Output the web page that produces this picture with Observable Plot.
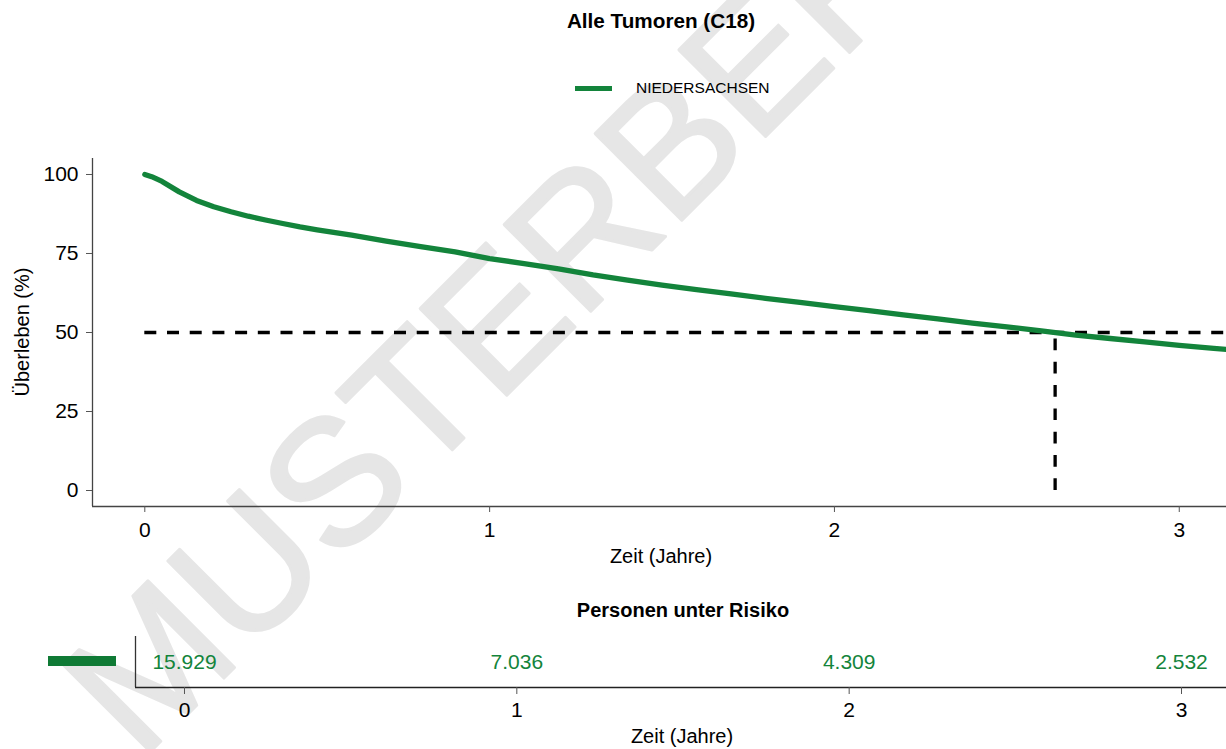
<!DOCTYPE html>
<html>
<head>
<meta charset="utf-8">
<script src="https://cdn.jsdelivr.net/npm/d3@7"></script>
<script src="https://cdn.jsdelivr.net/npm/@observablehq/plot@0.6"></script>
<style>
  html, body { margin: 0; padding: 0; background: #fff; }
  #wrap { position: relative; width: 1226px; height: 749px; overflow: hidden; font-family: "Liberation Sans", Arial, sans-serif; }
  #wrap > * { position: absolute; left: 0; }
  #wm { top: 0; z-index: 0; }
  #main { top: 0; z-index: 1; }
  #risk { top: 580px; z-index: 1; }
  #labels { top: 0; z-index: 2; pointer-events: none; }
</style>
</head>
<body>
<div id="wrap"></div>
<script>
// ---- data ----
const title = "Alle Tumoren (C18)";
const seriesName = "NIEDERSACHSEN";
const timeYears = [0, 0.02, 0.05, 0.1, 0.15, 0.2, 0.25, 0.3, 0.35, 0.4, 0.45, 0.5, 0.6, 0.7, 0.8, 0.9, 1.0, 1.1, 1.2, 1.3, 1.4, 1.5, 1.6, 1.7, 1.8, 1.9, 2.0, 2.1, 2.2, 2.3, 2.4, 2.5, 2.6, 2.7, 2.8, 2.9, 3.0, 3.1, 3.14];
const survivalPct = [100, 99.3, 97.8, 94.5, 91.8, 89.8, 88.2, 86.8, 85.6, 84.5, 83.4, 82.5, 80.8, 78.9, 77.2, 75.5, 73.4, 71.8, 70.1, 68.2, 66.6, 65.0, 63.6, 62.2, 60.8, 59.5, 58.2, 56.9, 55.6, 54.3, 53.0, 51.8, 50.5, 49.2, 48.1, 47.0, 45.9, 45.0, 44.6];
const medianYears = 2.64;
const medianLevel = 50;
const xTicks = [0, 1, 2, 3];
const yTicks = [0, 25, 50, 75, 100];
const riskTimes = [0, 1, 2, 3];
const riskCounts = [15929, 7036, 4309, 2532];
const xLabel = "Zeit (Jahre)";
const yLabel = "Überleben (%)";
const riskTitle = "Personen unter Risiko";
const watermark = "MUSTERBERICHT";

const green = "#13843b";
const greenDark = "#0f7a35";
const font = "'Liberation Sans', Arial, sans-serif";
const fmt = d => String(d);

const curve = timeYears.map((t, i) => ({t, v: survivalPct[i]}));
const wrap = document.getElementById("wrap");

// ---- watermark (behind) ----
const ns = "http://www.w3.org/2000/svg";
const wm = document.createElementNS(ns, "svg");
wm.setAttribute("id", "wm"); wm.setAttribute("width", 1226); wm.setAttribute("height", 749);
wm.innerHTML = `<text x="140" y="762" transform="rotate(-45 140 762)" font-family="${font}" font-size="178" fill="#e6e6e6" stroke="#e6e6e6" stroke-width="3" stroke-linejoin="round">${watermark}</text>`;
wrap.appendChild(wm);

// ---- main chart ----
const xDom = [-0.1517, 3.137];
const yDom = [-5.06, 105.06];
const main = Plot.plot({
  width: 1226, height: 580,
  marginLeft: 92, marginRight: 0, marginTop: 158, marginBottom: 74,
  style: {background: "transparent", fontFamily: font, overflow: "visible"},
  x: {domain: xDom, axis: null},
  y: {domain: yDom, axis: null},
  marks: [
    Plot.ruleX([xDom[0]], {stroke: "#444", strokeWidth: 1.3}),
    Plot.ruleY([yDom[0]], {stroke: "#444", strokeWidth: 1.3}),
    Plot.axisY(yTicks, {tickSize: 6, tickPadding: 8, fontSize: 21, stroke: "#555", fill: "#000", label: null, tickFormat: fmt}),
    Plot.axisX(xTicks, {tickSize: 6, tickPadding: 10, fontSize: 21, stroke: "#555", fill: "#000", label: null, tickFormat: fmt}),
    Plot.ruleY([medianLevel], {x1: 0, x2: xDom[1], stroke: "#000", strokeWidth: 3.6, strokeDasharray: "12,10.7"}),
    Plot.ruleX([medianYears], {y1: 0, y2: medianLevel, stroke: "#000", strokeWidth: 3.3, strokeDasharray: "11.7,11.6"}),
    Plot.line(curve, {x: "t", y: "v", stroke: green, strokeWidth: 5.3, clip: true})
  ]
});
main.setAttribute("id", "main");
wrap.appendChild(main);

// ---- risk table ----
const rDom = [-0.1474, 3.1354];
const risk = Plot.plot({
  width: 1226, height: 169,
  marginLeft: 135, marginRight: 0, marginTop: 56, marginBottom: 62,
  style: {background: "transparent", fontFamily: font, overflow: "visible"},
  x: {domain: rDom, axis: null},
  y: {domain: [0, 1], axis: null},
  marks: [
    Plot.ruleX([rDom[0]], {stroke: "#333", strokeWidth: 1.3}),
    Plot.ruleY([0], {stroke: "#222", strokeWidth: 1.3}),
    Plot.axisX(xTicks, {tickSize: 7, tickPadding: 8, fontSize: 21, stroke: "#555", fill: "#000", label: null, tickFormat: fmt}),
    Plot.text(riskTimes, {x: d => d, y: 0.5, text: (d, i) => riskCounts[i].toLocaleString("de-DE"), fill: green, fontSize: 21, textAnchor: "middle"})
  ]
});
risk.setAttribute("id", "risk");
wrap.appendChild(risk);

// ---- labels / legends overlay ----
const lab = document.createElementNS(ns, "svg");
lab.setAttribute("id", "labels"); lab.setAttribute("width", 1226); lab.setAttribute("height", 749);
lab.innerHTML = `
  <g font-family="${font}">
    <text x="661" y="28" text-anchor="middle" font-weight="bold" font-size="20.7">${title}</text>
    <line x1="575" x2="612" y1="88.5" y2="88.5" stroke="${green}" stroke-width="5"/>
    <text x="636" y="92.5" font-size="15.5">${seriesName}</text>
    <text x="661" y="562.5" text-anchor="middle" font-size="20">${xLabel}</text>
    <text transform="translate(29,332) rotate(-90)" text-anchor="middle" font-size="20">${yLabel}</text>
    <text x="683" y="617" text-anchor="middle" font-weight="bold" font-size="20">${riskTitle}</text>
    <rect x="48" y="656" width="68" height="10" fill="${greenDark}"/>
    <text x="682" y="743" text-anchor="middle" font-size="20">${xLabel}</text>
  </g>`;
wrap.appendChild(lab);
</script>
</body>
</html>
